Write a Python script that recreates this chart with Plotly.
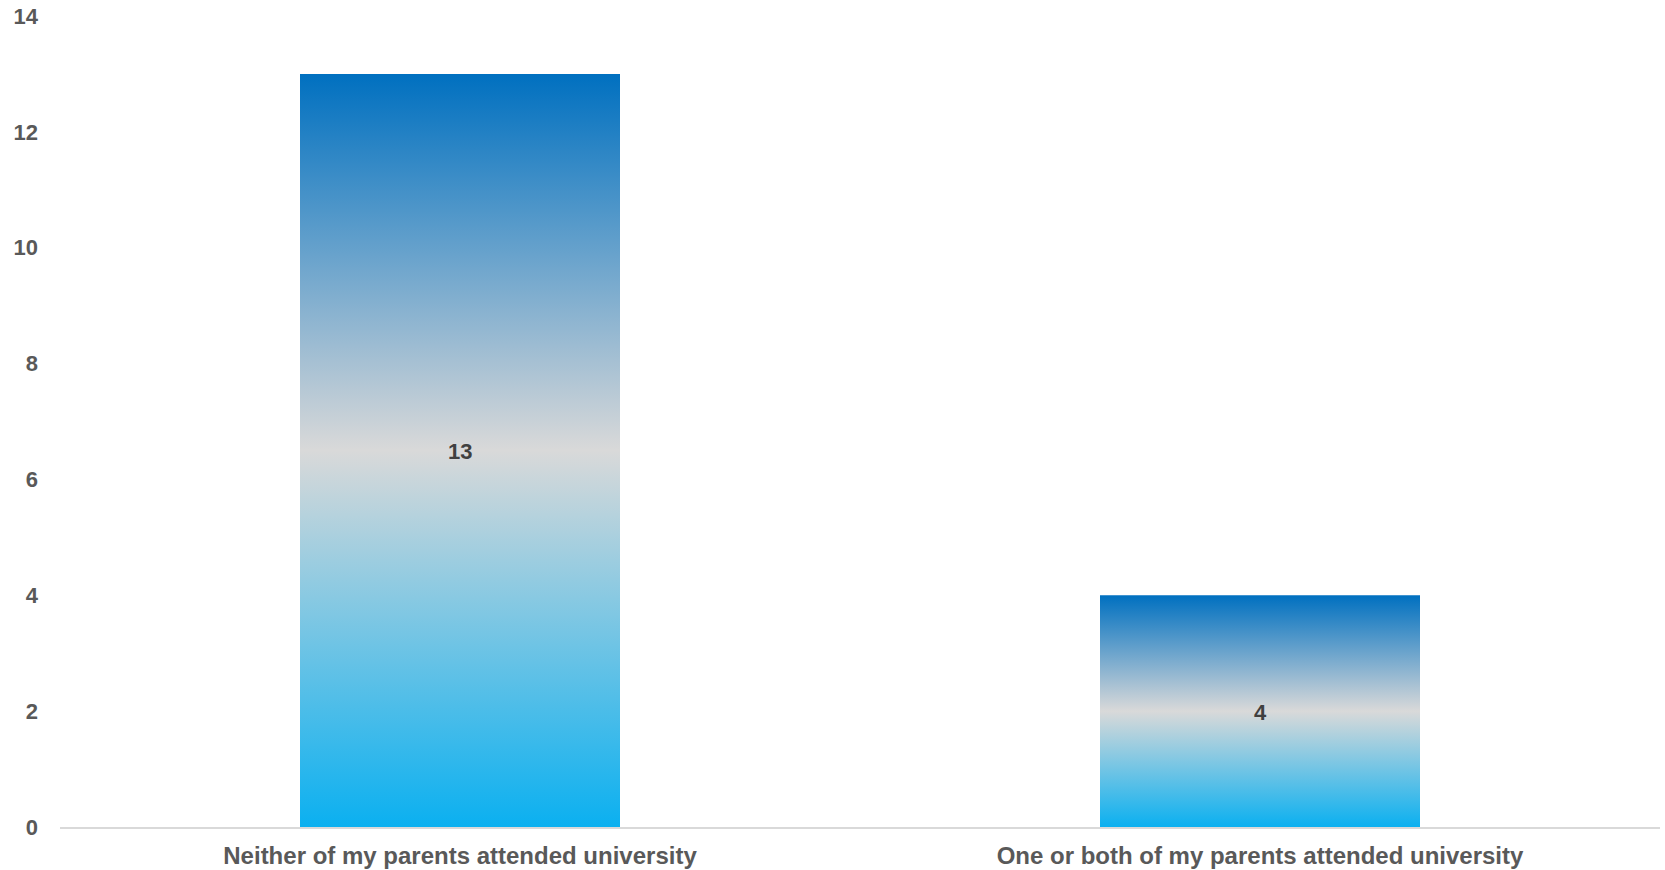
import plotly.graph_objects as go

categories = ["Neither of my parents attended university", "One or both of my parents attended university"]
values = [13, 4]
y_ticks = [0, 2, 4, 6, 8, 10, 12, 14]

bar_half_width = 0.2
gradient = [[0.0, "#0BB0F0"], [0.5, "#D9D9D9"], [1.0, "#0070C0"]]

fig = go.Figure()
for i, (cat, v) in enumerate(zip(categories, values)):
    xs = [i - bar_half_width, i + bar_half_width, i + bar_half_width, i - bar_half_width, i - bar_half_width]
    ys = [0, 0, v, v, 0]
    fig.add_trace(go.Scatter(
        x=xs, y=ys, mode="lines", fill="toself",
        line=dict(width=0),
        fillgradient=dict(type="vertical", colorscale=gradient),
        hoverinfo="skip", showlegend=False,
    ))

for i, v in enumerate(values):
    fig.add_annotation(
        x=i, y=v / 2, xref="x", yref="y", text=f"<b>{v}</b>", showarrow=False,
        font=dict(family="Liberation Sans, Arial, sans-serif", size=22, color="#404040"),
        yshift=-1,
    )

fig.update_layout(
    width=1665, height=870,
    margin=dict(l=60, r=5, t=16, b=43),
    paper_bgcolor="white", plot_bgcolor="white",
    font=dict(family="Liberation Sans, Arial, sans-serif", color="#595959"),
    xaxis=dict(
        range=[-0.5, 1.5], automargin=False,
        tickvals=list(range(len(categories))), ticktext=[f"<b>{c}</b>" for c in categories],
        tickfont=dict(size=24, color="#595959"),
        showgrid=False, zeroline=False,
        showline=True, linecolor="#D9D9D9", linewidth=2,
        ticks="", ticklabelstandoff=6,
    ),
    yaxis=dict(
        range=[0, 14], automargin=False, tickvals=y_ticks, ticktext=[f"<b>{t}</b>" for t in y_ticks],
        tickfont=dict(size=22, color="#595959"),
        showgrid=False, zeroline=False, showline=False,
        ticks="", ticklabelstandoff=21,
    ),
)

fig.write_html("out.html")
